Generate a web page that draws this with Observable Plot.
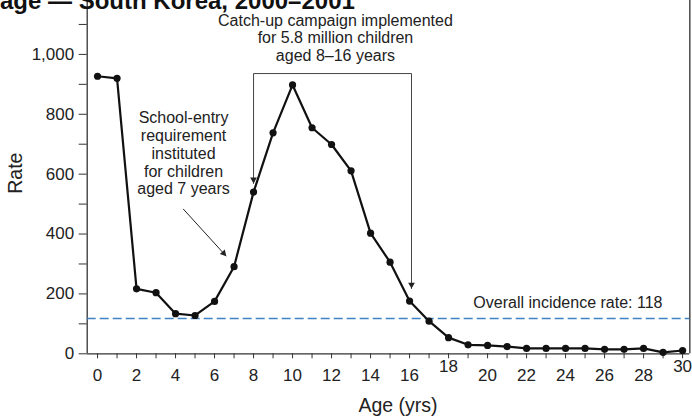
<!DOCTYPE html>
<html>
<head>
<meta charset="utf-8">
<script src="https://cdn.jsdelivr.net/npm/d3@7"></script>
<script src="https://cdn.jsdelivr.net/npm/@observablehq/plot@0.6"></script>
<style>
  html, body { margin: 0; padding: 0; background: #fff; overflow: hidden; }
  #wrap { position: relative; width: 692px; height: 417px; overflow: hidden; font-family: "Liberation Sans", Arial, Helvetica, sans-serif; }
  #title { position: absolute; left: 0; top: -11.3px; font-size: 24px; line-height: 24px; font-weight: bold; color: #111; white-space: nowrap; z-index: 2; }
  #chart { position: absolute; left: 0; top: 0; }
</style>
</head>
<body>
<div id="wrap">
  <div id="chart"></div>
  <div id="title">age — South Korea, 2000–2001</div>
</div>
<script>
// ---- data ----
const ages  = [0,1,2,3,4,5,6,7,8,9,10,11,12,13,14,15,16,17,18,19,20,21,22,23,24,25,26,27,28,29,30];
const rates = [927,920,217,204,134,128,175,291,540,738,898,755,699,611,403,306,176,109,54,30,28,24,18,18,18,18,15,15,18,5,11];
const overallRate = 118;
const overallLabel = "Overall incidence rate: 118";

const yTicks = [0,200,400,600,800,1000];
const yMinorTicks = [100,300,500,700,900,1100];
const xTicks = ages;
const xLabelsLow = [0,2,4,6,8,10,12,14,16,20,22,24,26,28];
const xLabelsHigh = [18,30];

const schoolText = "School-entry\nrequirement\ninstituted\nfor children\naged 7 years";
const schoolPos = [{x: 4.41, y: 670}];
const schoolArrow = [{x1: 4.39, y1: 484, x2: 6.6, y2: 326}];

const catchText = "Catch-up campaign implemented\nfor 5.8 million children\naged 8–16 years";
const catchPos = [{x: 12.2, y: 1056}];
const bracket = [{x: 8, y: 569}, {x: 8, y: 936}, {x: 16.1, y: 936}, {x: 16.1, y: 218}];
const bracketTips = [{x: 8, y: 569}, {x: 16.1, y: 218}];

const overallPos = [{x: 19.27, y: 171}];

const xDomain = [-0.53, 30.37];
const yDomain = [0, 1180];

// ---- table ----
const data = ages.map((a, i) => ({age: a, rate: rates[i]}));

const axisColor = "#333";
const font = "'Liberation Sans', Arial, Helvetica, sans-serif";

const chart = Plot.plot({
  width: 692,
  height: 417,
  marginLeft: 86.7,
  marginRight: 2.7,
  marginTop: 0,
  marginBottom: 63.7,
  style: {fontFamily: font, color: "#222", background: "white"},
  x: {domain: xDomain},
  y: {domain: yDomain},
  marks: [
    // frame lines
    Plot.ruleY([0], {stroke: axisColor, strokeWidth: 1.3}),
    Plot.ruleX([xDomain[0]], {stroke: axisColor, strokeWidth: 1.3}),
    Plot.ruleX([xDomain[1]], {stroke: "#555", strokeWidth: 1.6}),
    // axes
    Plot.axisY({ticks: yTicks, tickSize: 8, tickPadding: 5, tickFormat: d3.format(","), fontSize: 17, label: null, stroke: axisColor, fill: "#222"}),
    Plot.axisY({ticks: yMinorTicks, tickSize: 8, tickFormat: () => "", label: null, stroke: axisColor}),
    Plot.axisX({ticks: xTicks, tickSize: 5, tickFormat: () => "", label: null, stroke: axisColor}),
    Plot.axisX({ticks: xLabelsLow, tickSize: 0, tickPadding: 15.5, fontSize: 17, label: null, fill: "#222"}),
    Plot.axisX({ticks: xLabelsHigh, tickSize: 0, tickPadding: 6, fontSize: 17, label: null, fill: "#222"}),
    // axis titles
    Plot.text(["Age (yrs)"], {frameAnchor: "bottom", dx: 9.5, dy: 51.7, lineAnchor: "middle", fontSize: 19.5, fill: "#222"}),
    Plot.text(["Rate"], {frameAnchor: "left", dx: -71.4, dy: -4, rotate: -90, lineAnchor: "middle", textAnchor: "middle", fontSize: 19.5, fill: "#222"}),
    // overall rate
    Plot.ruleY([overallRate], {stroke: "#3f83c4", strokeWidth: 1.5, strokeDasharray: "9,4"}),
    Plot.text(overallPos, {x: "x", y: "y", text: () => overallLabel, textAnchor: "start", lineAnchor: "middle", fontSize: 16, fill: "#222"}),
    // series
    Plot.line(data, {x: "age", y: "rate", stroke: "#111", strokeWidth: 2.2}),
    Plot.dot(data, {x: "age", y: "rate", r: 3.6, fill: "#111", stroke: "none"}),
    // school-entry annotation
    Plot.text(schoolPos, {x: "x", y: "y", text: () => schoolText, lineAnchor: "middle", textAnchor: "middle", lineHeight: 1.11, fontSize: 16, fill: "#222"}),
    Plot.link(schoolArrow, {x1: "x1", y1: "y1", x2: "x2", y2: "y2", stroke: "#222", strokeWidth: 1}),
    Plot.dot(schoolArrow, {x: "x2", y: "y2", symbol: "triangle", r: 2.5, rotate: 137.8, fill: "#222", stroke: "none", dx: -2.6, dy: -2.9}),
    // catch-up annotation
    Plot.text(catchPos, {x: "x", y: "y", text: () => catchText, lineAnchor: "middle", textAnchor: "middle", lineHeight: 1.1, fontSize: 16, fill: "#222"}),
    Plot.line(bracket, {x: "x", y: "y", stroke: "#444", strokeWidth: 1, curve: "linear"}),
    Plot.dot(bracketTips, {x: "x", y: "y", symbol: "triangle", r: 2.5, rotate: 180, fill: "#222", stroke: "none", dy: -3.9})
  ]
});
document.getElementById("chart").appendChild(chart);
</script>
</body>
</html>
